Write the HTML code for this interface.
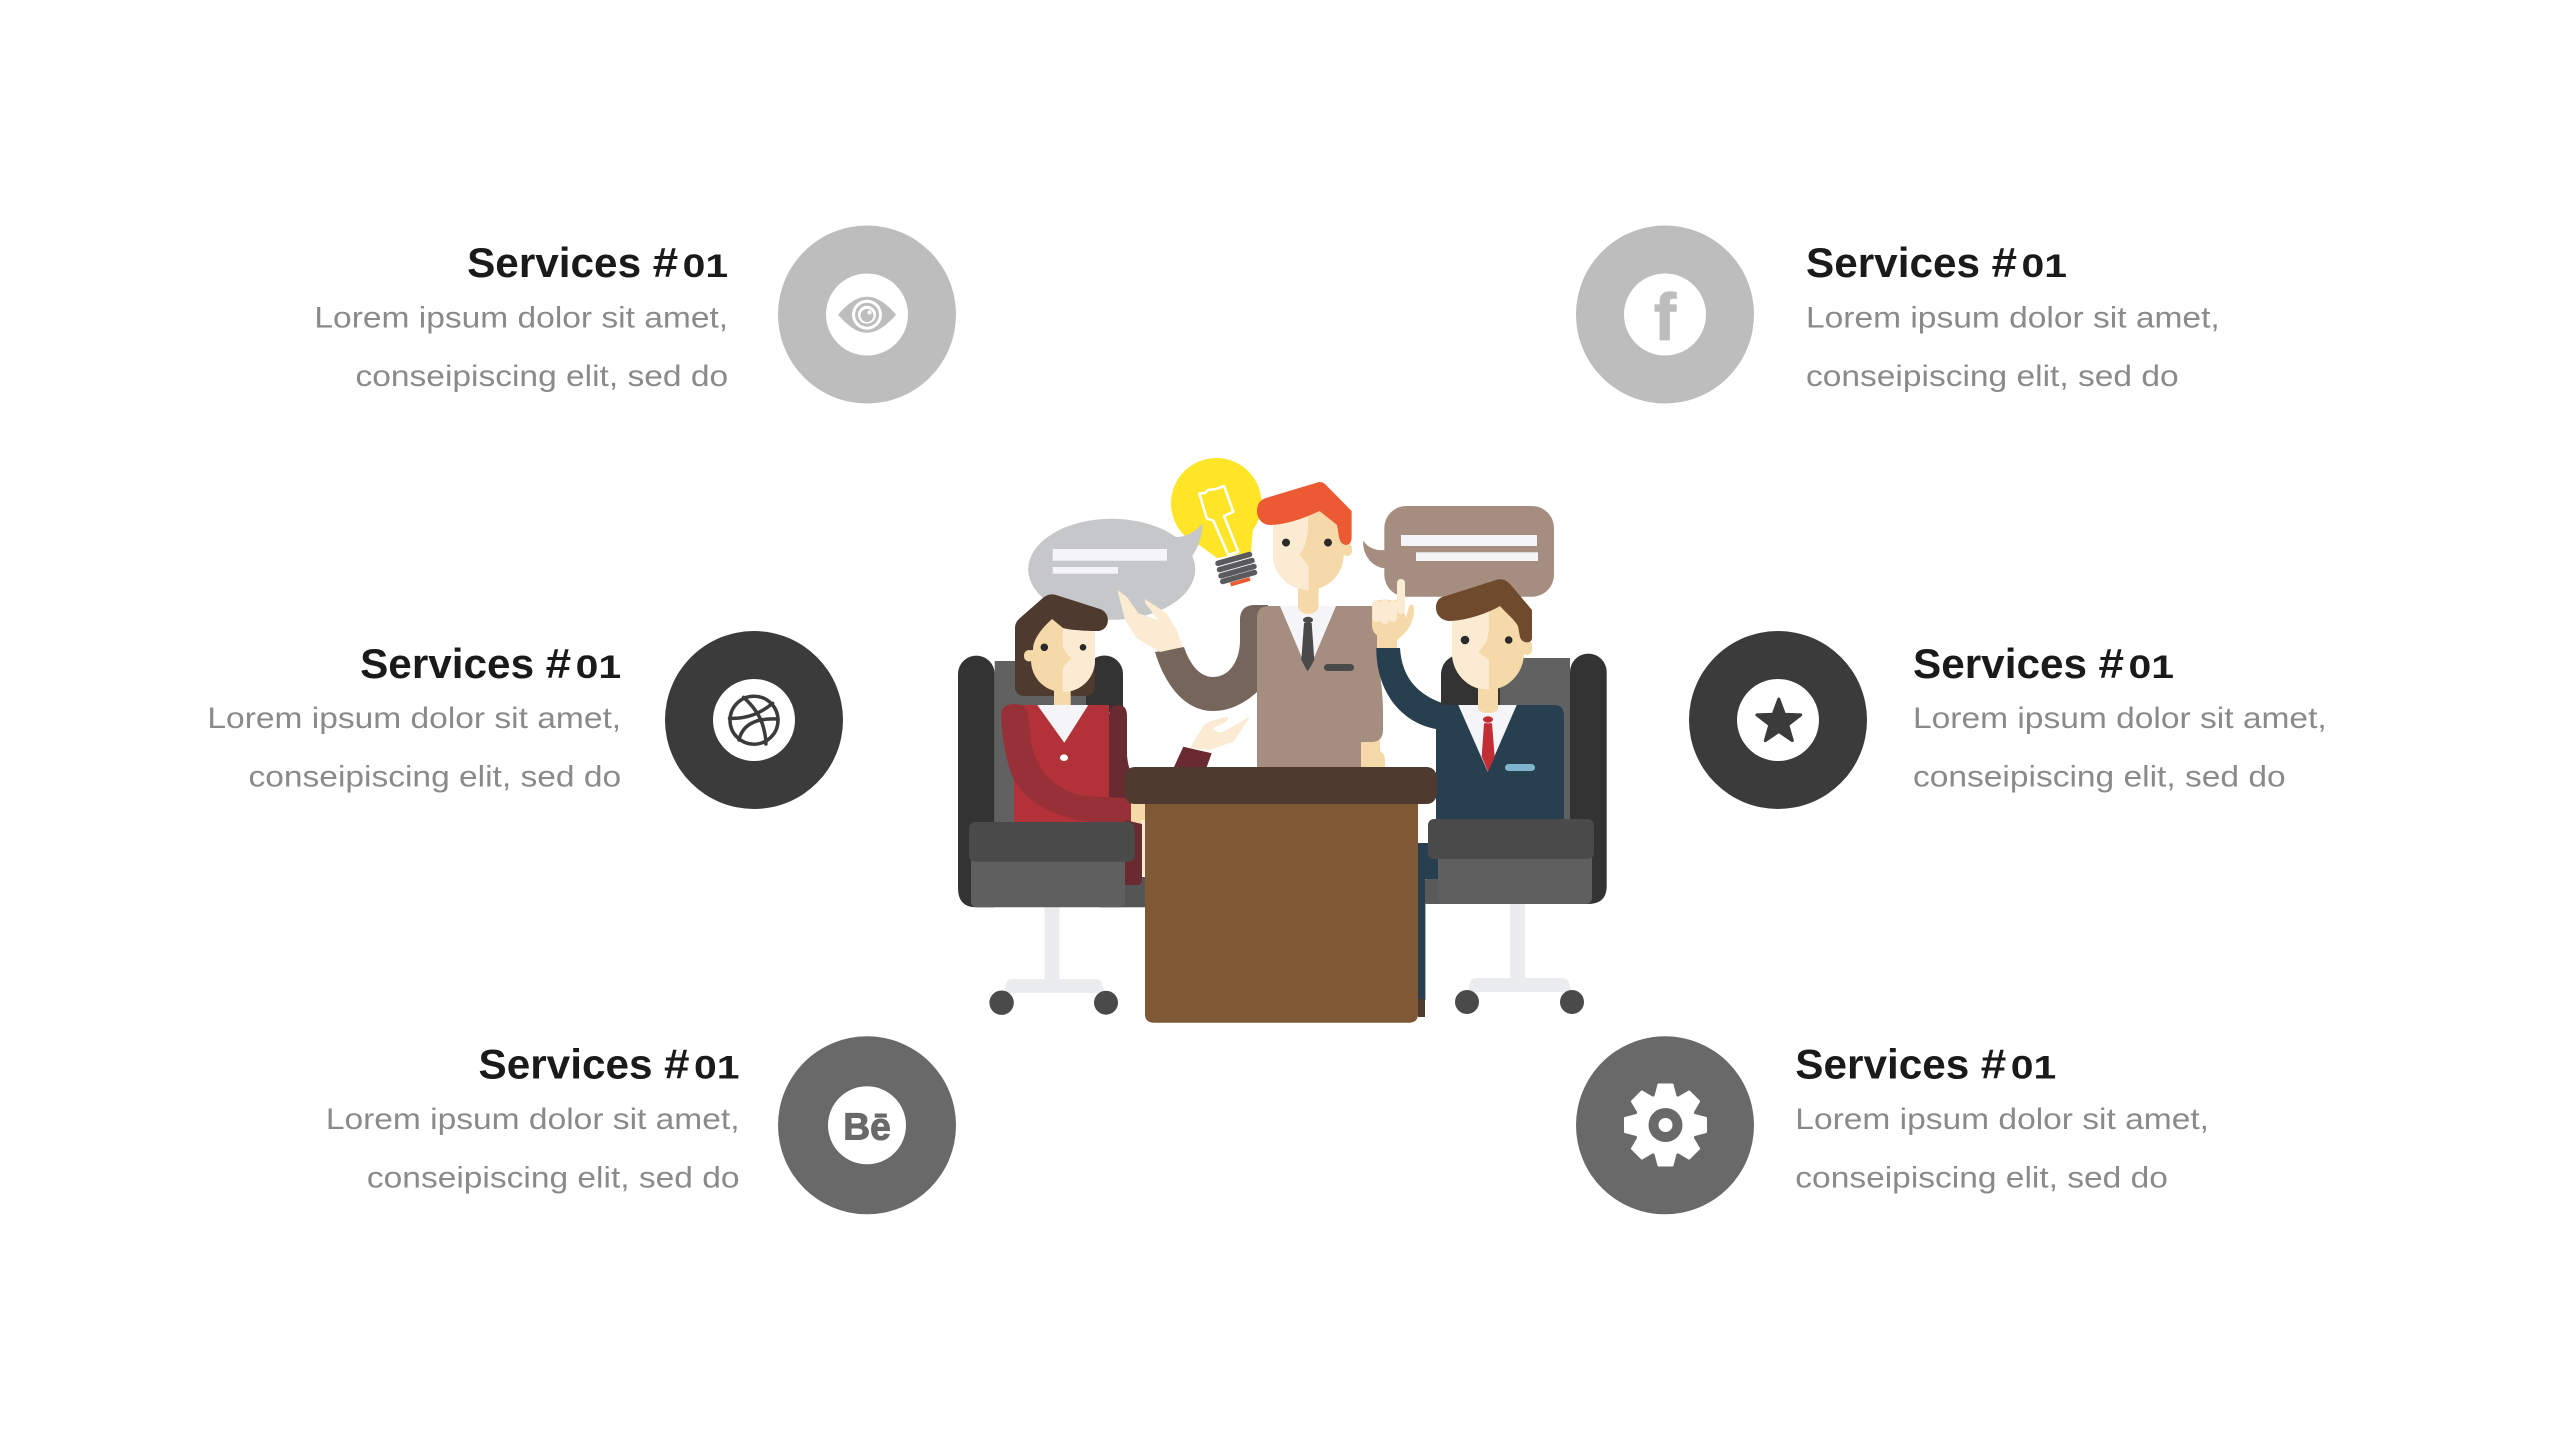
<!DOCTYPE html>
<html lang="en">
<head>
<meta charset="utf-8">
<title>Services</title>
<style>
html,body{margin:0;padding:0;background:#fff;width:2560px;height:1440px;overflow:hidden}
svg{display:block}
text{font-family:"Liberation Sans",sans-serif}
.t{font-weight:700;fill:#1a1a1a;font-size:42px}
.n{font-weight:700;fill:#1a1a1a;font-size:32px}
.b{fill:#8a8a8a;font-size:30px}
</style>
</head>
<body>
<svg width="2560" height="1440" viewBox="0 0 2560 1440" xmlns="http://www.w3.org/2000/svg">
<rect width="2560" height="1440" fill="#fff"/>

<!-- Text blocks -->
<g transform="translate(728.1,277.2)">
<text class="t"><tspan x="-261" textLength="174" lengthAdjust="spacingAndGlyphs">Services</tspan><tspan x="-75.5" textLength="25.5" lengthAdjust="spacingAndGlyphs">#</tspan><tspan class="n" x="-45.5" textLength="45.5" lengthAdjust="spacingAndGlyphs">01</tspan></text>
<text class="b" x="-413.7" y="50.2" textLength="413.7" lengthAdjust="spacingAndGlyphs">Lorem ipsum dolor sit amet,</text>
<text class="b" x="-372.6" y="108.6" textLength="372.6" lengthAdjust="spacingAndGlyphs">conseipiscing elit, sed do</text>
</g>
<g transform="translate(621.1,678)">
<text class="t"><tspan x="-261" textLength="174" lengthAdjust="spacingAndGlyphs">Services</tspan><tspan x="-75.5" textLength="25.5" lengthAdjust="spacingAndGlyphs">#</tspan><tspan class="n" x="-45.5" textLength="45.5" lengthAdjust="spacingAndGlyphs">01</tspan></text>
<text class="b" x="-413.7" y="50.2" textLength="413.7" lengthAdjust="spacingAndGlyphs">Lorem ipsum dolor sit amet,</text>
<text class="b" x="-372.6" y="108.6" textLength="372.6" lengthAdjust="spacingAndGlyphs">conseipiscing elit, sed do</text>
</g>
<g transform="translate(739.5,1078.7)">
<text class="t"><tspan x="-261" textLength="174" lengthAdjust="spacingAndGlyphs">Services</tspan><tspan x="-75.5" textLength="25.5" lengthAdjust="spacingAndGlyphs">#</tspan><tspan class="n" x="-45.5" textLength="45.5" lengthAdjust="spacingAndGlyphs">01</tspan></text>
<text class="b" x="-413.7" y="50.2" textLength="413.7" lengthAdjust="spacingAndGlyphs">Lorem ipsum dolor sit amet,</text>
<text class="b" x="-372.6" y="108.6" textLength="372.6" lengthAdjust="spacingAndGlyphs">conseipiscing elit, sed do</text>
</g>
<g transform="translate(1806,277.2)">
<text class="t"><tspan x="0" textLength="174" lengthAdjust="spacingAndGlyphs">Services</tspan><tspan x="185.5" textLength="25.5" lengthAdjust="spacingAndGlyphs">#</tspan><tspan class="n" x="215.5" textLength="45.5" lengthAdjust="spacingAndGlyphs">01</tspan></text>
<text class="b" x="0" y="50.2" textLength="413.7" lengthAdjust="spacingAndGlyphs">Lorem ipsum dolor sit amet,</text>
<text class="b" x="0" y="108.6" textLength="372.6" lengthAdjust="spacingAndGlyphs">conseipiscing elit, sed do</text>
</g>
<g transform="translate(1913,678)">
<text class="t"><tspan x="0" textLength="174" lengthAdjust="spacingAndGlyphs">Services</tspan><tspan x="185.5" textLength="25.5" lengthAdjust="spacingAndGlyphs">#</tspan><tspan class="n" x="215.5" textLength="45.5" lengthAdjust="spacingAndGlyphs">01</tspan></text>
<text class="b" x="0" y="50.2" textLength="413.7" lengthAdjust="spacingAndGlyphs">Lorem ipsum dolor sit amet,</text>
<text class="b" x="0" y="108.6" textLength="372.6" lengthAdjust="spacingAndGlyphs">conseipiscing elit, sed do</text>
</g>
<g transform="translate(1795.3,1078.7)">
<text class="t"><tspan x="0" textLength="174" lengthAdjust="spacingAndGlyphs">Services</tspan><tspan x="185.5" textLength="25.5" lengthAdjust="spacingAndGlyphs">#</tspan><tspan class="n" x="215.5" textLength="45.5" lengthAdjust="spacingAndGlyphs">01</tspan></text>
<text class="b" x="0" y="50.2" textLength="413.7" lengthAdjust="spacingAndGlyphs">Lorem ipsum dolor sit amet,</text>
<text class="b" x="0" y="108.6" textLength="372.6" lengthAdjust="spacingAndGlyphs">conseipiscing elit, sed do</text>
</g>

<!-- Icon circles -->
<circle cx="867" cy="314.5" r="89" fill="#bdbdbd"/>
<circle cx="867" cy="314.5" r="41" fill="#fff"/>
<path d="M838,314.7 C848,303 857,296.7 867,296.7 C877,296.7 886,303 896,314.7 C886,326 877,332.7 867,332.7 C857,332.7 848,326 838,314.7 Z" fill="#bdbdbd"/>
<circle cx="867" cy="314.7" r="15" fill="#fff"/>
<circle cx="867" cy="314.7" r="12" fill="#bdbdbd"/>
<circle cx="867" cy="314.7" r="9" fill="#fff"/>
<circle cx="867" cy="315.5" r="6.5" fill="#bdbdbd"/>
<circle cx="869.5" cy="312.5" r="2" fill="#fff"/>

<circle cx="1665" cy="314.5" r="89" fill="#bdbdbd"/>
<circle cx="1665" cy="314.5" r="41" fill="#fff"/>
<text x="1654" y="340" font-size="66" font-weight="700" fill="#bdbdbd" stroke="#bdbdbd" stroke-width="1.2" textLength="22" lengthAdjust="spacingAndGlyphs">f</text>

<circle cx="754" cy="720" r="89" fill="#3b3b3b"/>
<circle cx="754" cy="720" r="41" fill="#fff"/>
<g fill="none" stroke="#3b3b3b" stroke-width="3.5" stroke-linecap="round">
<circle cx="754" cy="720.2" r="24"/>
<path d="M729.5,718.3 C745,719 760,714 772.6,703.3"/>
<path d="M743.6,697.3 C752,705 760,715 763,726 C765,733 766,739 765.9,744"/>
<path d="M739,740 C741,731 746,726 752,723 C760,719 770,718.5 778,719"/>
</g>

<circle cx="1778" cy="720" r="89" fill="#3b3b3b"/>
<circle cx="1778" cy="720" r="41" fill="#fff"/>
<polygon points="1778.8,699 1784.4,714.3 1800.7,714.9 1787.8,724.9 1792.3,740.6 1778.8,731.5 1765.3,740.6 1769.8,724.9 1756.9,714.9 1773.2,714.3" fill="#3b3b3b" stroke="#3b3b3b" stroke-width="3" stroke-linejoin="round"/>

<circle cx="867" cy="1125.3" r="89" fill="#696969"/>
<circle cx="867" cy="1125.3" r="39" fill="#fff"/>
<text x="843.3" y="1139.5" font-size="38" font-weight="700" fill="#696969" stroke="#696969" stroke-width="1" textLength="47.5" lengthAdjust="spacingAndGlyphs">Bē</text>

<circle cx="1665" cy="1125.3" r="89" fill="#696969"/>
<g transform="translate(1665.5,1125)" fill="#fff" stroke="#fff" stroke-width="2" stroke-linejoin="round">
<circle r="31" stroke="none"/>
<polygon points="-10,-29 -7,-40.5 7,-40.5 10,-29"/>
<polygon points="-10,-29 -7,-40.5 7,-40.5 10,-29" transform="rotate(45)"/>
<polygon points="-10,-29 -7,-40.5 7,-40.5 10,-29" transform="rotate(90)"/>
<polygon points="-10,-29 -7,-40.5 7,-40.5 10,-29" transform="rotate(135)"/>
<polygon points="-10,-29 -7,-40.5 7,-40.5 10,-29" transform="rotate(180)"/>
<polygon points="-10,-29 -7,-40.5 7,-40.5 10,-29" transform="rotate(225)"/>
<polygon points="-10,-29 -7,-40.5 7,-40.5 10,-29" transform="rotate(270)"/>
<polygon points="-10,-29 -7,-40.5 7,-40.5 10,-29" transform="rotate(315)"/>
</g>
<circle cx="1665.5" cy="1125" r="17" fill="#696969"/>
<circle cx="1665.5" cy="1125" r="7" fill="#fff"/>

<!-- Illustration: bulb -->
<circle cx="1216.3" cy="503.3" r="45.3" fill="#fee527"/>
<polygon points="1183,533 1217,558 1251,552 1253,528" fill="#fee527"/>
<path d="M1199.3,493.3 L1205,493 L1208,490 L1216,489 L1224,486 L1233.3,511.7 L1224,516 L1238.3,551.7 L1232,553.7 L1228.3,555 L1213.3,520.7 L1206.7,518.3 Z" fill="none" stroke="#fff" stroke-width="2.6" stroke-linejoin="round"/>
<g stroke="#5a5a5c" stroke-width="5.5" stroke-linecap="round">
<line x1="1218" y1="563.3" x2="1249.5" y2="554.5"/>
<line x1="1219.5" y1="569.6" x2="1252" y2="560.5"/>
<line x1="1221" y1="575.8" x2="1254" y2="566.5"/>
<line x1="1222.7" y1="581.5" x2="1254.5" y2="572.5"/>
</g>
<line x1="1230.5" y1="584.5" x2="1250" y2="579" stroke="#eb5a33" stroke-width="4"/>

<!-- Left bubble -->
<ellipse cx="1111.7" cy="569.3" rx="83.5" ry="50.5" fill="#c6c7c8"/>
<path d="M1170,536 C1180,539 1193,535 1202.7,523.3 C1202,535 1199,547 1191.7,556.7 Z" fill="#c6c7c8"/>
<rect x="1052.7" y="549" width="114.3" height="11.7" fill="#f5f4f7"/>
<rect x="1052.7" y="567" width="65.3" height="6.7" fill="#f5f4f7"/>

<!-- Right bubble -->
<rect x="1384.3" y="506" width="169.7" height="90.7" rx="22" fill="#a58e7f"/>
<path d="M1385,550 C1376,551 1368,548 1363.3,540.7 C1362,552 1370,567 1385,568.3 Z" fill="#a58e7f"/>
<rect x="1401" y="535" width="136" height="11" fill="#f5f4f7"/>
<rect x="1416" y="552.3" width="122" height="8.7" fill="#f5f4f7"/>

<!-- Left chair -->
<rect x="1044.6" y="905" width="14.8" height="76" fill="#ebecee"/>
<path d="M1003.6,993 L1006,984 Q1007,979 1012,979 L1096,979 Q1101,979 1102,984 L1105,993 Z" fill="#ebecee"/>
<circle cx="1001.6" cy="1002.7" r="12.2" fill="#4a4a4a"/>
<circle cx="1106" cy="1002.7" r="12" fill="#4a4a4a"/>
<path d="M958,674 A18.3,18.3 0 0 1 994.7,674 L994.7,907.3 L976,907.3 Q958,907.3 958,888 Z" fill="#333"/>
<rect x="994.7" y="661" width="92" height="165" fill="#616161"/>
<path d="M1086,674 A18.5,18.5 0 0 1 1123,674 L1123,712 L1086,712 Z" fill="#333"/>
<rect x="1100" y="877" width="50" height="30.3" fill="#555"/>

<!-- Right chair -->
<rect x="1510" y="900" width="15" height="80" fill="#ebecee"/>
<path d="M1467.9,992 L1470,983 Q1471,978 1476,978 L1562,978 Q1568,978 1569,983 L1571.4,992 Z" fill="#ebecee"/>
<circle cx="1467" cy="1002" r="12" fill="#4a4a4a"/>
<circle cx="1572" cy="1002" r="12" fill="#4a4a4a"/>
<path d="M1570,672 A18.3,18.3 0 0 1 1606.7,672 L1606.7,886 Q1606.7,904 1588,904 L1570,904 Z" fill="#333"/>
<rect x="1490" y="658" width="80" height="170" fill="#616161"/>
<path d="M1441,675 Q1441,662 1453,656 L1500,656 L1500,712 L1441,712 Z" fill="#333"/>

<!-- Woman -->
<path d="M1015,630 L1095,630 L1095,686 Q1095,696 1085,696 L1025,696 Q1015,696 1015,686 Z" fill="#4f3a30"/>
<rect x="1054" y="680" width="16.7" height="28" fill="#f6d9a8"/>
<ellipse cx="1062.4" cy="707" rx="8.4" ry="5" fill="#f6d9a8"/>
<path d="M1109,716 Q1109,705 1118,705 Q1127,705 1127,716 L1127,755 Q1128,770 1135,780 L1135,800 L1109,800 Z" fill="#692a30"/>
<path d="M1014,705 L1109,705 L1109,822 L1014,822 Z" fill="#b3323a"/>
<polygon points="1037.3,705 1088.3,705 1064.3,742.7" fill="#f5f4f7"/>
<ellipse cx="1064" cy="757.7" rx="4" ry="3.3" fill="#fff"/>
<path d="M1001,716 Q1001,704 1014,704 Q1028.3,704 1028.3,716 C1030,735 1031,747 1036,759 C1044,778 1060,790 1083.3,796 L1131.7,798.3 L1131.7,822 L1090,822 C1050,816 1022,800 1012,775 C1005,757 1002,735 1001,716 Z" fill="#983038"/>
<rect x="1131" y="800" width="15" height="24" fill="#f6d9a8"/>
<rect x="1141" y="820" width="5" height="56" fill="#faebd2"/>
<path d="M1125,820 L1142,824 L1142,880 Q1142,885 1137,885 L1125,885 Z" fill="#692a30"/>
<polygon points="1183.3,746.7 1211.7,753.3 1206.7,767 1174,767" fill="#692a30"/>
<path d="M1190,748 L1203.3,726 C1208,721 1220,718 1228.3,716.7 L1226.7,721.7 L1213.3,728 C1215,732 1219,733 1223.3,731.7 L1250,716.7 L1233.3,741.7 L1210,750 Z" fill="#faebd2"/>
<!-- Woman head -->
<rect x="1024" y="650" width="10" height="11.5" rx="5" fill="#f6d9a8"/>
<path d="M1031,615 L1095,615 L1095,660 C1095,678 1081,692 1063,692 C1045,692 1031,678 1031,660 Z" fill="#f6d9a8"/>
<path d="M1062.7,615 L1095,615 L1095,660 C1095,678 1081,692 1062.7,692 L1062.7,668 Q1066,663 1071.7,658.3 Q1065,653 1062.7,646 Z" fill="#faebd2"/>
<path d="M1015,628 Q1015,622 1020,618 L1044,597 Q1050,593 1056,595 L1100,609 C1112,613 1110,632 1096,631 C1085,631 1070,630 1063,628 L1052,619 C1040,630 1033,640 1033,650 L1024,650 L1024,690 L1015,690 Z" fill="#4f3a30"/>
<circle cx="1044.3" cy="647.3" r="3.8" fill="#2a2a2a"/>
<circle cx="1083" cy="647.3" r="3.3" fill="#2a2a2a"/>

<!-- Middle man -->
<path d="M1155,652 L1184,647 C1190,665 1200,677 1213,677 C1230,677 1240,660 1240,640 L1240,620 C1240,610 1245,605 1255,605 L1268,605 L1268,690 L1257,692 C1245,703 1230,711 1213,711 C1185,711 1165,685 1155,652 Z" fill="#75655b"/>
<path d="M1117.3,590 L1126.7,596.7 L1138.3,613.3 L1158.3,620 L1145,603 L1145,599 L1166.7,613.3 L1176.7,630 L1183,647 L1160,652 L1136.7,638.3 L1125,620 Z" fill="#faebd2"/>
<rect x="1361" y="738" width="19" height="20" fill="#f6d9a8"/>
<path d="M1354,767 Q1354,756 1362,751 L1380,751 Q1385,754 1385,760 L1385,767 Z" fill="#f6d9a8"/>
<path d="M1257,618 Q1257,606 1269,606 L1375,606 L1378,650 C1380,680 1383,690 1383,710 L1383,730 Q1383,742 1371,742 L1361,742 L1361,767 L1257,767 Z" fill="#a58e7f"/>
<polygon points="1280,606 1336,606 1308,672" fill="#f5f4f7"/>
<rect x="1298" y="580" width="20.6" height="26" fill="#f6d9a8"/>
<ellipse cx="1308.3" cy="606" rx="10.3" ry="8" fill="#f6d9a8"/>
<polygon points="1304,623 1311.7,623 1314.3,660 1307.7,671.7 1301.3,660" fill="#4a4a4a"/>
<ellipse cx="1308" cy="620" rx="5" ry="3.2" fill="#4a4a4a"/>
<rect x="1324" y="664" width="30" height="7" rx="3.5" fill="#4a4a4a"/>
<!-- Middle man head -->
<rect x="1342" y="543" width="10" height="13" rx="5" fill="#f6d9a8"/>
<path d="M1273,505 L1343.6,505 L1343.6,555 C1343.6,575 1327,590 1308.3,590 C1290,590 1273,575 1273,555 Z" fill="#f6d9a8"/>
<path d="M1273,505 L1308,505 L1308,525 C1308,535 1306,547 1299.4,554.5 L1308.7,566 L1308.7,590 C1290,590 1273,575 1273,555 Z" fill="#faebd2"/>
<path d="M1257,511 C1257,504 1260,500 1266,498 L1317,482.6 C1321,481 1324,483 1326,485 L1351.6,511 L1351.6,538 C1351.6,547 1341,548 1339,537 L1337,525 L1319.5,511 C1305,518 1285,525 1270,525 C1262,525 1257,518 1257,511 Z" fill="#eb5a33"/>
<circle cx="1286" cy="542.6" r="4" fill="#2a2a2a"/>
<circle cx="1328" cy="542.6" r="4" fill="#2a2a2a"/>

<!-- Right man -->
<rect x="1418" y="843" width="20" height="36" fill="#283f50"/>
<rect x="1418" y="870" width="7.4" height="130" fill="#283f50"/>
<rect x="1418" y="999" width="7" height="18" fill="#4f3a30"/>
<rect x="1425" y="879" width="20" height="25" rx="2" fill="#5a5a5a"/>
<path d="M1436,705 L1554,705 Q1564,705 1564,716 L1564,825 L1436,825 Z" fill="#283f50"/>
<path d="M1376.3,648 L1400,648 C1402,680 1420,695 1442,703 L1442,730 C1400,725 1376,690 1376.3,648 Z" fill="#283f50"/>
<path d="M1372,606 Q1372,600 1378,600 L1400,600 L1406,618 L1409,606 Q1414,602 1414,610 C1414,622 1408,632 1397,640 L1397,648 L1377,648 L1377,635 Q1372,632 1372,625 Z" fill="#f6d9a8"/>
<rect x="1397" y="579" width="8" height="35" rx="4" fill="#faebd2"/>
<rect x="1372.5" y="600" width="8" height="22" rx="4" fill="#faebd2"/>
<rect x="1380.5" y="599" width="8.5" height="25" rx="4" fill="#faebd2"/>
<rect x="1389" y="600" width="8" height="22" rx="4" fill="#faebd2"/>
<polygon points="1458.3,705 1516.7,705 1487.7,771.7" fill="#f5f4f7"/>
<polygon points="1484,723.3 1492,723.3 1494.7,756.7 1488,771.7 1481.7,756.7" fill="#c32d36"/>
<ellipse cx="1488" cy="719.5" rx="5" ry="3.2" fill="#c32d36"/>
<rect x="1505" y="764" width="30" height="7" rx="3.5" fill="#7fb5cc"/>
<rect x="1478" y="680" width="20" height="28" fill="#f6d9a8"/>
<ellipse cx="1488" cy="708" rx="10" ry="5" fill="#f6d9a8"/>
<rect x="1522" y="640" width="10" height="15" rx="5" fill="#f6d9a8"/>
<path d="M1452,606 L1524,606 L1524,653 C1524,673 1508,690 1488,690 C1468,690 1452,673 1452,653 Z" fill="#f6d9a8"/>
<path d="M1452,606 L1489,606 L1489,625 C1489,635 1487,645 1478,652 L1489,660 L1489,689.5 C1468,689.5 1452,673 1452,653 Z" fill="#faebd2"/>
<path d="M1436,608 C1436,600 1440,597 1446,596 L1496,580 C1502,578 1506,580 1510,584 L1532,610 L1532,638 C1532,644 1522,644 1520,637 L1518,626 C1515,620 1505,612 1500,606 C1490,612 1470,620 1450,621 C1442,621 1436,615 1436,608 Z" fill="#6f4a2d"/>
<circle cx="1465" cy="640" r="4.3" fill="#2a2a2a"/>
<circle cx="1508.7" cy="640" r="3.8" fill="#2a2a2a"/>

<!-- Seats -->
<rect x="971" y="855" width="154" height="52.3" rx="5" fill="#5f5f5f"/>
<rect x="969" y="822" width="165.7" height="39.7" rx="6" fill="#4a4a4a"/>
<rect x="1438" y="852" width="154" height="52" rx="6" fill="#5f5f5f"/>
<rect x="1428" y="819" width="166" height="40" rx="6" fill="#4a4a4a"/>

<!-- Desk -->
<path d="M1145,800 L1418,800 L1418,1014 Q1418,1022.7 1409,1022.7 L1154,1022.7 Q1145,1022.7 1145,1014 Z" fill="#7f5935"/>
<rect x="1124.7" y="767" width="312" height="37" rx="10" fill="#4f3a30"/>
</svg>
</body>
</html>
